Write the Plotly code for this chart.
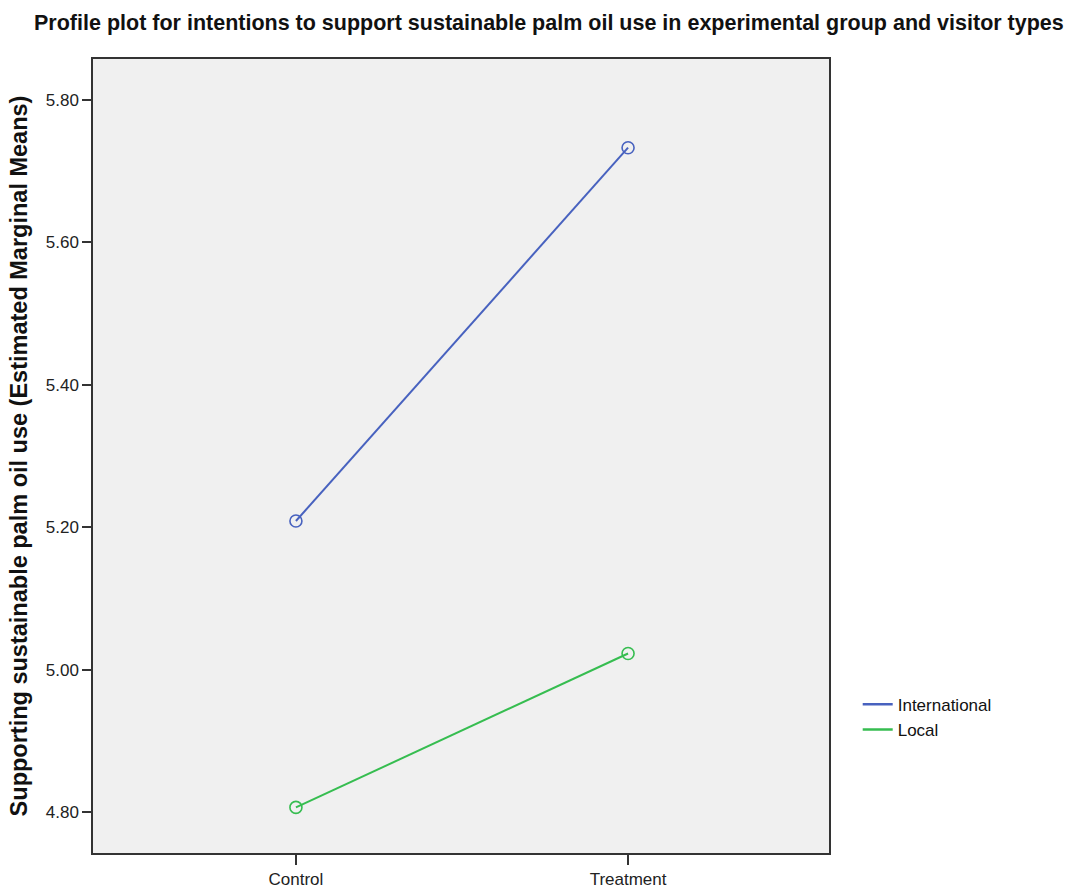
import plotly.graph_objects as go

# Estimated marginal means by experimental group and visitor type
groups = ["Control", "Treatment"]
international = [5.209, 5.733]
local = [4.807, 5.023]
y_ticks = [4.80, 5.00, 5.20, 5.40, 5.60, 5.80]

fig = go.Figure()
series = [("International", international, "#4862bf"), ("Local", local, "#36bd50")]
for name, vals, color in series:
    # data line with open-circle markers
    fig.add_trace(go.Scatter(
        x=groups, y=vals, name=name, mode="lines+markers", showlegend=False,
        line=dict(color=color, width=2),
        marker=dict(symbol="circle-open", size=12, color=color, line=dict(width=1.6, color=color)),
    ))
    # legend entry drawn as a plain line
    fig.add_trace(go.Scatter(
        x=[None], y=[None], name=name, mode="lines",
        line=dict(color=color, width=2.5),
    ))

fig.update_layout(
    width=1070, height=888,
    margin=dict(l=93, r=241, t=59, b=35),
    paper_bgcolor="white",
    plot_bgcolor="#f0f0f0",
    title=dict(
        text="<b>Profile plot for intentions to support sustainable palm oil use in experimental group and visitor types</b>",
        font=dict(family="Liberation Sans, Arial, sans-serif", size=21.5, color="#111"),
        x=0.513, xref="container", xanchor="center", y=0.975, yref="container", yanchor="middle",
    ),
    font=dict(family="Liberation Sans, Arial, sans-serif", size=17, color="#222"),
    legend=dict(
        x=1.039, y=0.171, xanchor="left", yanchor="middle",
        bgcolor="rgba(0,0,0,0)", font=dict(size=17, color="#111"),
        tracegroupgap=0, itemwidth=30,
    ),
    showlegend=True,
)

fig.update_xaxes(
    type="category", range=[-0.611, 1.605], automargin=False,
    showgrid=False, zeroline=False,
    showline=True, linecolor="#333", linewidth=1.5, mirror=True,
    ticks="outside", ticklen=10, tickcolor="#333", tickwidth=1.5,
    tickfont=dict(size=17, color="#222"),
)
fig.update_yaxes(
    range=[4.743, 5.8575], automargin=False,
    tickvals=y_ticks, ticktext=[f"{v:.2f}" for v in y_ticks],
    showgrid=False, zeroline=False,
    showline=True, linecolor="#333", linewidth=1.5, mirror=True,
    ticks="outside", ticklen=9, tickcolor="#333", tickwidth=1.5,
    tickfont=dict(size=17, color="#222"),
    title=dict(
        text="<b>Supporting sustainable palm oil use (Estimated Marginal Means)</b>",
        font=dict(family="Liberation Sans, Arial, sans-serif", size=23.5, color="#111"),
        standoff=12,
    ),
)

fig.write_html("out.html")
